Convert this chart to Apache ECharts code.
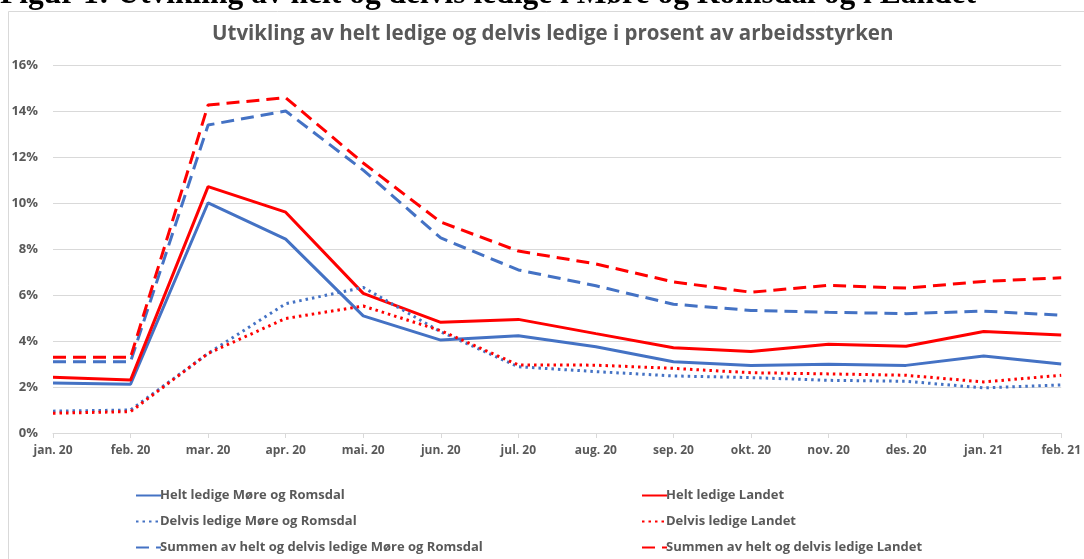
<!DOCTYPE html>
<html>
<head>
<meta charset="utf-8">
<script src="https://cdn.jsdelivr.net/npm/echarts@6/dist/echarts.min.js"></script>
<style>
html,body{margin:0;padding:0;background:#fff;}
#chart{width:1084px;height:559px;}
</style>
</head>
<body>
<div id="chart"></div>
<script>
const categories = ['jan. 20','feb. 20','mar. 20','apr. 20','mai. 20','jun. 20','jul. 20','aug. 20','sep. 20','okt. 20','nov. 20','des. 20','jan. 21','feb. 21'];
const heltMR      = [2.17, 2.12, 10.01, 8.43, 5.09, 4.04, 4.23, 3.75, 3.10, 2.93, 2.99, 2.94, 3.35, 3.00];
const heltLandet  = [2.42, 2.30, 10.71, 9.60, 6.07, 4.81, 4.94, 4.32, 3.71, 3.54, 3.86, 3.77, 4.41, 4.26];
const delvisMR    = [0.95, 1.00, 3.46, 5.62, 6.33, 4.40, 2.88, 2.67, 2.48, 2.41, 2.29, 2.25, 1.96, 2.09];
const delvisLandet= [0.86, 0.93, 3.46, 4.98, 5.52, 4.45, 2.96, 2.95, 2.81, 2.62, 2.57, 2.51, 2.22, 2.51];
const sumMR       = [3.10, 3.10, 13.39, 14.00, 11.43, 8.48, 7.09, 6.40, 5.60, 5.33, 5.25, 5.19, 5.30, 5.12];
const sumLandet   = [3.29, 3.29, 14.26, 14.58, 11.74, 9.17, 7.91, 7.35, 6.57, 6.12, 6.42, 6.30, 6.59, 6.75];

const names = ['Helt ledige Møre og Romsdal','Helt ledige Landet','Delvis ledige Møre og Romsdal','Delvis ledige Landet','Summen av helt og delvis ledige Møre og Romsdal','Summen av helt og delvis ledige Landet'];

const BLUE = '#4472C4', RED = '#FF0000';
const FONT = '"Open Sans", sans-serif';
const TXT = '#595959';

function mk(name, data, color, type, width) {
  return {
    name, type: 'line', data, symbol: 'circle', showSymbol: false, symbolSize: 0, smooth: false,
    lineStyle: { color, width, type },
    itemStyle: { color },
    emphasis: { disabled: true },
    z: 2
  };
}

const legendCommon = {
  orient: 'vertical', top: 484, itemGap: 13, itemWidth: 25, itemHeight: 14,
  itemStyle: { opacity: 0 },
  textStyle: { fontFamily: FONT, fontSize: 13, fontWeight: 'bold', color: TXT, padding: [0,0,0,-6] }
};

const chart = echarts.init(document.getElementById('chart'), null, { renderer: 'canvas' });
chart.setOption({
  animation: false,
  backgroundColor: '#fff',
  title: {
    text: 'Utvikling av helt ledige og delvis ledige i prosent av arbeidsstyrken',
    left: 207, top: 19,
    textStyle: { fontFamily: FONT, fontSize: 20.5, fontWeight: 'bold', color: TXT }
  },
  graphic: [
    { type: 'rect', left: 6, top: 9, shape: { width: 1200, height: 700 }, style: { fill: 'none', stroke: '#d9d9d9', lineWidth: 1 }, silent: true, z: -1 },
    { type: 'text', x: 0, y: 11, style: { text: 'Figur 1: Utvikling av helt og delvis ledige i Møre og Romsdal og i Landet', font: 'bold 31.5px "Liberation Serif", serif', fill: '#000', textVerticalAlign: 'bottom' }, silent: true, z: 10 }
  ],
  grid: { left: 53, right: 16, top: 65, bottom: 126, containLabel: false },
  xAxis: {
    type: 'category', data: categories, boundaryGap: false,
    axisLine: { lineStyle: { color: '#d9d9d9', width: 1 } },
    axisTick: { show: true, alignWithLabel: true, length: 5, lineStyle: { color: '#d9d9d9' } },
    axisLabel: { interval: 0, margin: 12, fontFamily: FONT, fontSize: 12, fontWeight: 'bold', color: TXT },
    splitLine: { show: false }
  },
  yAxis: {
    type: 'value', min: 0, max: 16, interval: 2,
    axisLine: { show: false }, axisTick: { show: false },
    axisLabel: { formatter: v => v + '%', margin: 15, fontFamily: FONT, fontSize: 13, fontWeight: 'bold', color: TXT },
    splitLine: { lineStyle: { color: '#d9d9d9', width: 1 } }
  },
  legend: [
    Object.assign({}, legendCommon, { left: 130, data: [names[0], names[2], names[4]] }),
    Object.assign({}, legendCommon, { left: 636, data: [names[1], names[3], names[5]] })
  ],
  series: [
    mk(names[0], heltMR, BLUE, 'solid', 3),
    mk(names[1], heltLandet, RED, 'solid', 3),
    mk(names[2], delvisMR, BLUE, [2.5, 4], 3),
    mk(names[3], delvisLandet, RED, [2.5, 4], 3),
    mk(names[4], sumMR, BLUE, [13, 7], 3),
    mk(names[5], sumLandet, RED, [13, 7], 3)
  ]
});
</script>
</body>
</html>
